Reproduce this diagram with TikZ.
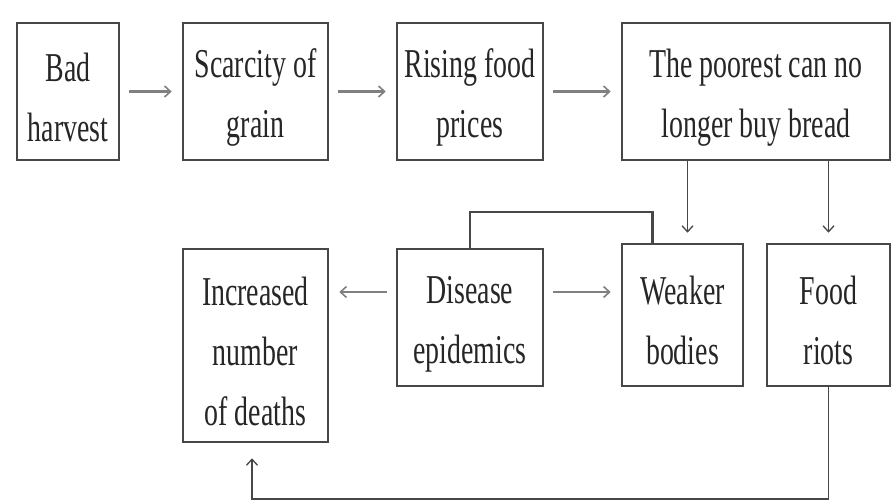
\documentclass[tikz,border=0pt]{standalone}
\usepackage{tikz}
\usepackage{xcolor}
\usepackage{fontspec}
\usetikzlibrary{calc,positioning,arrows.meta}
\newfontfamily\boxfont[FakeStretch=0.68]{Liberation Serif}
\newcommand{\lift}{\rule{0pt}{40pt}}

\begin{document}
\begin{tikzpicture}[x=1pt, y=-1pt,
        box/.style={draw=black!72, line width=2.6pt, fill=white, inner sep=0pt, align=center,
            font=\boxfont\fontsize{41}{60}\selectfont, text=black!85},
        arr/.style={-{Straight Barb[length=6pt, width=11pt, line width=1.6pt]}, draw=black!50,
            line width=2.8pt, shorten >=10pt, shorten <=9pt},
        down/.style={-{Straight Barb[length=6pt, width=11pt, line width=1.3pt]}, draw=black!72,
            line width=1.7pt},
        link/.style={draw=black!72, line width=2.2pt}]
        \useasboundingbox[fill=white] (0,0) rectangle (893,503);
        % top row
        \node[box, minimum width=102pt, minimum height=137pt] (bad) at (68,91.5) {\lift Bad\\harvest};
        \node[box, minimum width=145pt, minimum height=137pt] (scarcity) at (255.5,91.5) {\lift Scarcity of\\grain};
        \node[box, minimum width=146pt, minimum height=137pt] (rising) at (470,91.5) {\lift Rising food\\prices};
        \node[box, minimum width=268pt, minimum height=137pt] (poorest) at (756,91.5) {\lift The poorest can no\\longer buy bread};
        % bottom row
        \node[box, minimum width=145pt, minimum height=193pt] (deaths) at (255.5,345.5) {\lift Increased\\number\\of deaths};
        \node[box, minimum width=146pt, minimum height=137pt] (disease) at (470,317.5) {\lift Disease\\epidemics};
        \node[box, minimum width=121pt, minimum height=142pt] (weaker) at (682.5,315) {\lift Weaker\\bodies};
        \node[box, minimum width=123pt, minimum height=142pt] (riots) at (828.5,315) {\lift Food\\riots};
        \coordinate (epiright) at ([yshift=25.5pt]disease.east);
        \coordinate (epileft) at ([yshift=25.5pt]disease.west);
        % connectors
        \draw[arr] (bad) -- (scarcity);
        \draw[arr] (scarcity) -- (rising);
        \draw[arr] (rising) -- (poorest);
        \draw[arr] (epiright) -- (epiright -| weaker.west);
        \draw[arr] (epileft) -- (epileft -| deaths.east);
        \draw[down, shorten >=10pt] ([xshift=5pt]weaker.north |- poorest.south) -- ([xshift=5pt]weaker.north);
        \draw[down, shorten >=10pt] (riots.north |- poorest.south) -- (riots.north);
        \draw[link] (disease.north) -- ++(0,-36) -| ([xshift=-30pt]weaker.north);
        \draw[down, shorten >=15pt] (riots.south) -- ++(0,112) -| ([xshift=-3.5pt]deaths.south);
    \end{tikzpicture}
\end{document}
